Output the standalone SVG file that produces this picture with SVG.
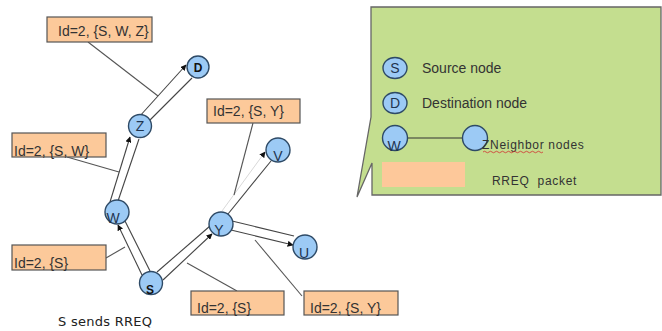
<svg xmlns="http://www.w3.org/2000/svg" width="662" height="331" viewBox="0 0 662 331">
<defs>
<marker id="arr" viewBox="0 0 10 10" refX="9" refY="5" markerWidth="6" markerHeight="6" markerUnits="userSpaceOnUse" orient="auto">
<path d="M0,0 L10,5 L0,10 Z" fill="#111"/>
</marker>
</defs>
<style>
.node{fill:#9CCAF5;stroke:#2E4A66;stroke-width:1.4}
.nl{font-family:"Liberation Sans",Arial,sans-serif;font-size:14px;fill:#1F3550;text-anchor:middle}
.nb{font-family:"Liberation Sans",Arial,sans-serif;font-size:12px;font-weight:bold;fill:#111;text-anchor:middle}
.box{fill:#FCC99A;stroke:#555;stroke-width:1.2}
.bt{font-family:"Liberation Sans",Arial,sans-serif;font-size:14px;fill:#333}
.e{stroke:#444;stroke-width:1.1;fill:none}
.p{stroke:#555;stroke-width:1.1;fill:none}
.lt{font-family:"Liberation Sans",Arial,sans-serif;font-size:14px;fill:#333}
.ls{font-family:"Liberation Sans",Arial,sans-serif;font-size:12px;fill:#333;letter-spacing:0.7px}
</style>
<rect width="662" height="331" fill="#fff"/>

<g id="legend">
<path d="M371,7 L661,7 L661,195 L372,195 L372,163 L357,197 L371,117 Z" fill="#C4DE8F" stroke="#666" stroke-width="1.3"/>
<ellipse cx="395" cy="68" rx="12" ry="10.5" class="node"/>
<text x="395" y="73" class="nl" font-size="13">S</text>
<text x="422" y="73" class="lt">Source node</text>
<ellipse cx="395" cy="103" rx="12" ry="10.5" class="node"/>
<text x="395" y="108" class="nl" font-size="13">D</text>
<text x="422" y="108" class="lt">Destination node</text>
<line x1="407" y1="138" x2="463" y2="138" stroke="#333" stroke-width="1.2"/>
<circle cx="395" cy="138" r="12.5" class="node"/>
<text x="394" y="151" class="nl" font-size="13">W</text>
<circle cx="475" cy="138" r="12.5" class="node"/>
<text x="482" y="149" class="ls">ZNeighbor nodes</text>
<path d="M483,152 q1.5,-1.5 3,0 t3,0 t3,0 t3,0 t3,0 t3,0 t3,0 t3,0 t3,0 t3,0 t3,0 t3,0 t3,0 t3,0 t3,0 t3,0 t3,0 t3,0 t3,0 t3,0" stroke="#D03030" stroke-width="0.8" fill="none"/>
<rect x="382" y="162" width="83" height="25" fill="#FDC89A"/>
<text x="492" y="185" class="ls">RREQ&#160; packet</text>
</g>

<g id="connectors">
<line class="e" x1="142" y1="275" x2="118" y2="225" marker-end="url(#arr)"/>
<line class="e" x1="150" y1="271" x2="125" y2="221"/>
<line class="e" x1="110" y1="202" x2="130" y2="137" marker-end="url(#arr)"/>
<line class="e" x1="117" y1="204" x2="139" y2="139"/>
<line class="e" x1="139" y1="117" x2="186" y2="65" marker-end="url(#arr)"/>
<line class="e" x1="146" y1="124" x2="192" y2="78"/>
<line class="e" x1="157" y1="272" x2="210" y2="226"/>
<line class="e" x1="163" y1="280" x2="212" y2="234" marker-end="url(#arr)"/>
<line class="e" x1="232" y1="221" x2="294" y2="236"/>
<line class="e" x1="231" y1="230" x2="293" y2="245" marker-end="url(#arr)"/>
<line class="e" x1="228" y1="214" x2="271" y2="161"/>
<line x1="222" y1="211" x2="265" y2="152" stroke="#d8d8d8" stroke-width="1" marker-end="url(#arr)"/>
<line class="p" x1="88" y1="42" x2="158" y2="96"/>
<line class="p" x1="67" y1="157" x2="119" y2="172"/>
<line class="p" x1="106" y1="258" x2="125" y2="247"/>
<line class="p" x1="253" y1="123" x2="234" y2="195"/>
<line class="p" x1="237" y1="291" x2="187" y2="263"/>
<line class="p" x1="302" y1="296" x2="255" y2="240"/>
</g>

<g id="nodeD"><circle cx="198" cy="67" r="11" class="node"/><text x="198" y="72" class="nb">D</text></g>
<g id="nodeZ"><circle cx="140" cy="126" r="11.5" class="node"/><text x="140" y="131" class="nl">Z</text></g>
<g id="nodeW"><circle cx="117" cy="212" r="12" class="node"/><text x="113" y="223" class="nl">W</text></g>
<g id="nodeS"><circle cx="151" cy="283" r="11.5" class="node"/><text x="150" y="294" class="nb">S</text></g>
<g id="nodeY"><circle cx="221" cy="224" r="12" class="node"/><text x="219" y="235" class="nl">Y</text></g>
<g id="nodeU"><circle cx="305" cy="247" r="12" class="node"/><text x="304" y="258" class="nl">U</text></g>
<g id="nodeV"><circle cx="278" cy="150" r="12" class="node"/><text x="278" y="161" class="nl">V</text></g>

<g id="boxSWZ"><rect x="47" y="17" width="105" height="25" class="box"/><text x="58" y="36" class="bt">Id=2, {S, W, Z}</text></g>
<g id="boxSW"><rect x="12" y="133" width="94" height="24" class="box"/><text x="14" y="156" class="bt">Id=2, {S, W}</text></g>
<g id="boxS1"><rect x="12" y="245" width="94" height="25" class="box"/><text x="14" y="268" class="bt">Id=2, {S}</text></g>
<g id="boxSY1"><rect x="207" y="99" width="93" height="24" class="box"/><text x="213" y="116" class="bt">Id=2, {S, Y}</text></g>
<g id="boxS2"><rect x="191" y="291" width="93" height="24" class="box"/><text x="197" y="313" class="bt">Id=2, {S}</text></g>
<g id="boxSY2"><rect x="304" y="291" width="94" height="24" class="box"/><text x="310" y="313" class="bt">Id=2, {S, Y}</text></g>

<text x="58" y="326" font-family="'Comic Sans MS','DejaVu Sans',sans-serif" font-size="13" fill="#222" textLength="94">S sends RREQ</text>
</svg>
